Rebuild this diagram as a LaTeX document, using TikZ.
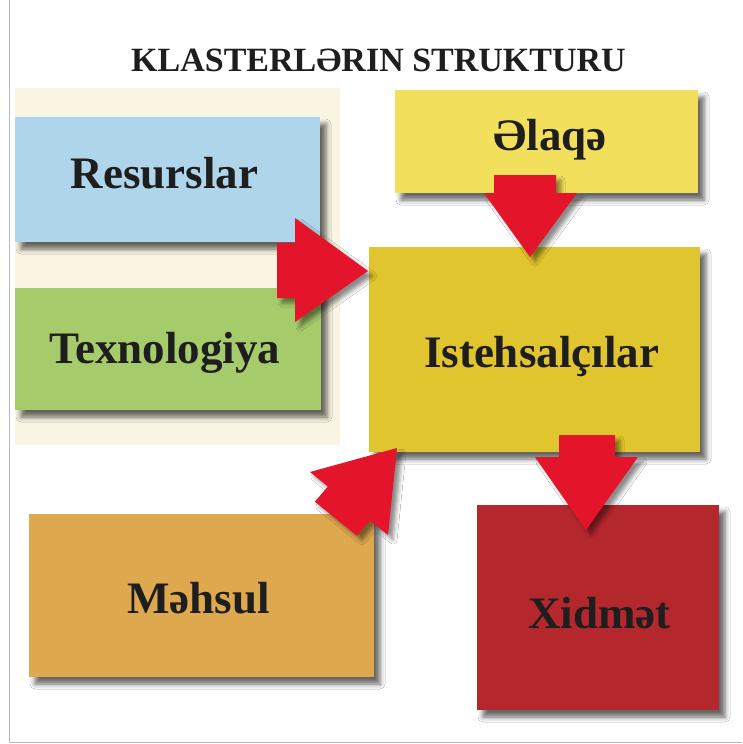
\documentclass[tikz,border=0pt]{standalone}
\usepackage{fontspec}
\setmainfont{Liberation Serif}
\usetikzlibrary{shadows.blur}
\definecolor{cblue}{HTML}{AED5EA}
\definecolor{cgreen}{HTML}{A5CB6B}
\definecolor{cyellow}{HTML}{F2E05C}
\definecolor{cgold}{HTML}{E1C52E}
\definecolor{corange}{HTML}{DEA84F}
\definecolor{cred}{HTML}{B4282D}
\definecolor{arrred}{HTML}{E4142B}
\definecolor{beige}{HTML}{FAF5E2}
\definecolor{txt}{HTML}{1E1E1E}
\begin{document}
\begin{tikzpicture}[x=1pt,y=-1pt,
  box/.style={rectangle, draw=none, inner sep=0pt,
    blur shadow={shadow xshift=6pt, shadow yshift=-7pt, shadow blur radius=5pt, shadow opacity=60}},
  lbl/.style={font=\bfseries\fontsize{45}{50}\selectfont, text=txt, anchor=base, inner sep=0pt},
  ttl/.style={font=\bfseries\fontsize{34}{38}\selectfont, text=txt, anchor=base, inner sep=0pt},
  blockarrow/.style={fill=arrred,
    blur shadow={shadow xshift=5pt, shadow yshift=-5pt, shadow blur radius=4pt, shadow opacity=45}}]
\useasboundingbox (0,0) rectangle (742,744);
\fill[white] (0,0) rectangle (742,744);
% frame lines
\draw[gray!55, line width=1pt] (9,0) -- (9,742) -- (742,742);
% pale background behind left boxes
\fill[beige] (15,88) rectangle (340,445);
% title
\node[ttl] (title) at (378.5,71) {KLASTERLƏRIN STRUKTURU};
% boxes
\node[box, fill=cblue, minimum width=305pt, minimum height=125pt] (res) at (167.5,179.5) {};
\node[box, fill=cgreen, minimum width=306pt, minimum height=122pt] (tex) at (168,349) {};
\node[box, fill=cyellow, minimum width=303pt, minimum height=103pt] (ela) at (546.5,141.5) {};
\node[box, fill=cgold, minimum width=331pt, minimum height=205pt] (ist) at (534.5,349.5) {};
\node[box, fill=corange, minimum width=345pt, minimum height=163pt] (meh) at (201.5,595.5) {};
\node[box, fill=cred, minimum width=242pt, minimum height=205pt] (xid) at (598,607.5) {};
% arrows
\fill[blockarrow] (277,243) -- (295,243) -- (295,218) -- (368,271) -- (295,322) -- (295,298) -- (277,298) -- cycle;
\fill[blockarrow] (494,175) -- (556,175) -- (556,193) -- (577,193) -- (530,257) -- (484,193) -- (494,193) -- cycle;
\fill[blockarrow] (559,435) -- (615,435) -- (615,457) -- (638,457) -- (586,530) -- (535,457) -- (559,457) -- cycle;
\fill[blockarrow] (397,448) -- (388,535) -- (370,520.5) -- (357,535.7) -- (314.8,501.7) -- (327.9,486.5) -- (310,472) -- cycle;
% labels
\node[lbl] (tres) at (164.5,188) {Resurslar};
\node[lbl] (ttex) at (165,363) {Texnologiya};
\node[lbl] (tela) at (550,150) {Əlaqə};
\node[lbl] (tist) at (541.5,367) {Istehsalçılar};
\node[lbl] (tmeh) at (198.5,613) {Məhsul};
\node[lbl] (txid) at (599.5,628) {Xidmət};
\end{tikzpicture}
\end{document}
